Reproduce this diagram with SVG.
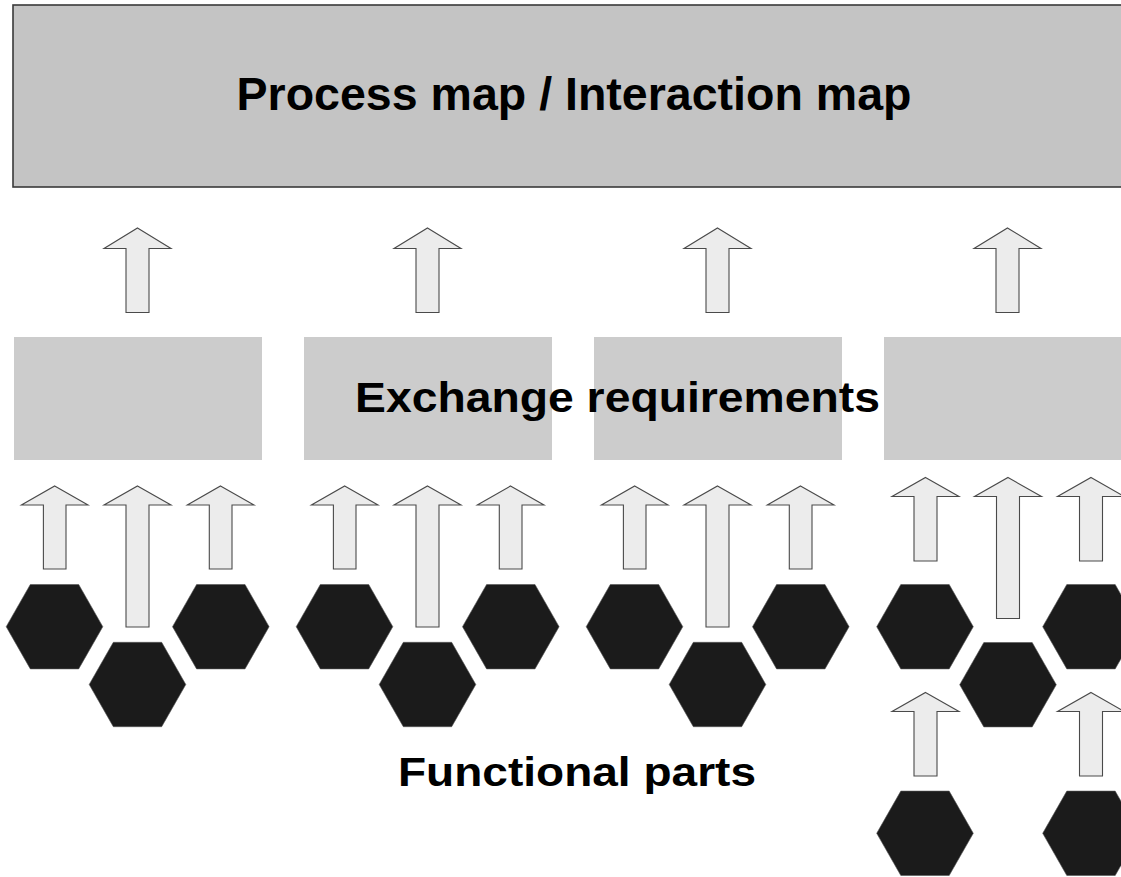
<svg xmlns="http://www.w3.org/2000/svg" xmlns:xlink="http://www.w3.org/1999/xlink" width="1121" height="877" viewBox="0 0 1121 877">
<style>
.title{font-family:"Liberation Sans",Arial,sans-serif;font-weight:bold;fill:#000}
.top{fill:#c4c4c4;stroke:#3a3a3a;stroke-width:1.6}
.er{fill:#cccccc}
.arr{fill:#ececec;stroke:#4a4a4a;stroke-width:1.1;stroke-linejoin:miter}
.hex{fill:#1b1b1b;stroke:#555;stroke-width:0.6}
</style>
<defs>
<polygon id="hx" points="-48.3,0 -24.2,-42.2 24.2,-42.2 48.3,0 24.2,42.2 -24.2,42.2"/>
</defs>
<rect width="1121" height="877" fill="#fff"/>
<g id="process-map">
<rect class="top" x="13" y="5" width="1115" height="182"/>
<text class="title" x="236.5" y="110" font-size="45.5" textLength="675" lengthAdjust="spacingAndGlyphs">Process map / Interaction map</text>
</g>
<g id="exchange-requirements">
<rect class="er" x="14" y="337" width="248" height="123"/>
<rect class="er" x="304" y="337" width="248" height="123"/>
<rect class="er" x="594" y="337" width="248" height="123"/>
<rect class="er" x="884" y="337" width="240" height="123"/>
<text class="title" x="355" y="412" font-size="43" textLength="525" lengthAdjust="spacingAndGlyphs">Exchange requirements</text>
</g>
<g id="functional-parts">
<use xlink:href="#hx" class="hex" x="54.5" y="626.7"/>
<use xlink:href="#hx" class="hex" x="137.5" y="684.5"/>
<use xlink:href="#hx" class="hex" x="220.8" y="626.7"/>
<use xlink:href="#hx" class="hex" x="344.5" y="626.7"/>
<use xlink:href="#hx" class="hex" x="427.5" y="684.5"/>
<use xlink:href="#hx" class="hex" x="510.8" y="626.7"/>
<use xlink:href="#hx" class="hex" x="634.5" y="626.7"/>
<use xlink:href="#hx" class="hex" x="717.5" y="684.5"/>
<use xlink:href="#hx" class="hex" x="800.8" y="626.7"/>
<use xlink:href="#hx" class="hex" x="925" y="626.7"/>
<use xlink:href="#hx" class="hex" x="1008" y="684.7"/>
<use xlink:href="#hx" class="hex" x="1091" y="626.7"/>
<use xlink:href="#hx" class="hex" x="925" y="833.3"/>
<use xlink:href="#hx" class="hex" x="1091" y="833.3"/>
<text class="title" x="398" y="786" font-size="41" textLength="358" lengthAdjust="spacingAndGlyphs">Functional parts</text>
</g>
<g id="connectors">
<polygon class="arr" points="137.5,228 171,248.5 149,248.5 149,312.5 126,312.5 126,248.5 104,248.5"/>
<polygon class="arr" points="427.5,228 461,248.5 439,248.5 439,312.5 416,312.5 416,248.5 394,248.5"/>
<polygon class="arr" points="717.5,228 751,248.5 729,248.5 729,312.5 706,312.5 706,248.5 684,248.5"/>
<polygon class="arr" points="1007.5,228 1041,248.5 1019,248.5 1019,312.5 996,312.5 996,248.5 974,248.5"/>
<polygon class="arr" points="54.7,486 88,505 66,505 66,569 43.4,569 43.4,505 21.4,505"/>
<polygon class="arr" points="137.5,486 171,505 149,505 149,627 126,627 126,505 104,505"/>
<polygon class="arr" points="220.5,486 254,505 232,505 232,569 209.3,569 209.3,505 187.3,505"/>
<polygon class="arr" points="344.7,486 378,505 356,505 356,569 333.4,569 333.4,505 311.4,505"/>
<polygon class="arr" points="427.5,486 461,505 439,505 439,627 416,627 416,505 394,505"/>
<polygon class="arr" points="510.5,486 544,505 522,505 522,569 499.3,569 499.3,505 477.3,505"/>
<polygon class="arr" points="634.7,486 668,505 646,505 646,569 623.4,569 623.4,505 601.4,505"/>
<polygon class="arr" points="717.5,486 751,505 729,505 729,627 706,627 706,505 684,505"/>
<polygon class="arr" points="800.5,486 834,505 812,505 812,569 789.3,569 789.3,505 767.3,505"/>
<polygon class="arr" points="925.5,477.5 959,496.5 937,496.5 937,561 914,561 914,496.5 892,496.5"/>
<polygon class="arr" points="1008,477.5 1041.5,496.5 1019.5,496.5 1019.5,618.5 996.5,618.5 996.5,496.5 974.5,496.5"/>
<polygon class="arr" points="1091,477.5 1124.5,496.5 1102.5,496.5 1102.5,561 1079.5,561 1079.5,496.5 1057.5,496.5"/>
<polygon class="arr" points="925.5,692.5 959,711.5 937,711.5 937,776 914,776 914,711.5 892,711.5"/>
<polygon class="arr" points="1091,692.5 1124.5,711.5 1102.5,711.5 1102.5,776 1079.5,776 1079.5,711.5 1057.5,711.5"/>
</g>
</svg>
